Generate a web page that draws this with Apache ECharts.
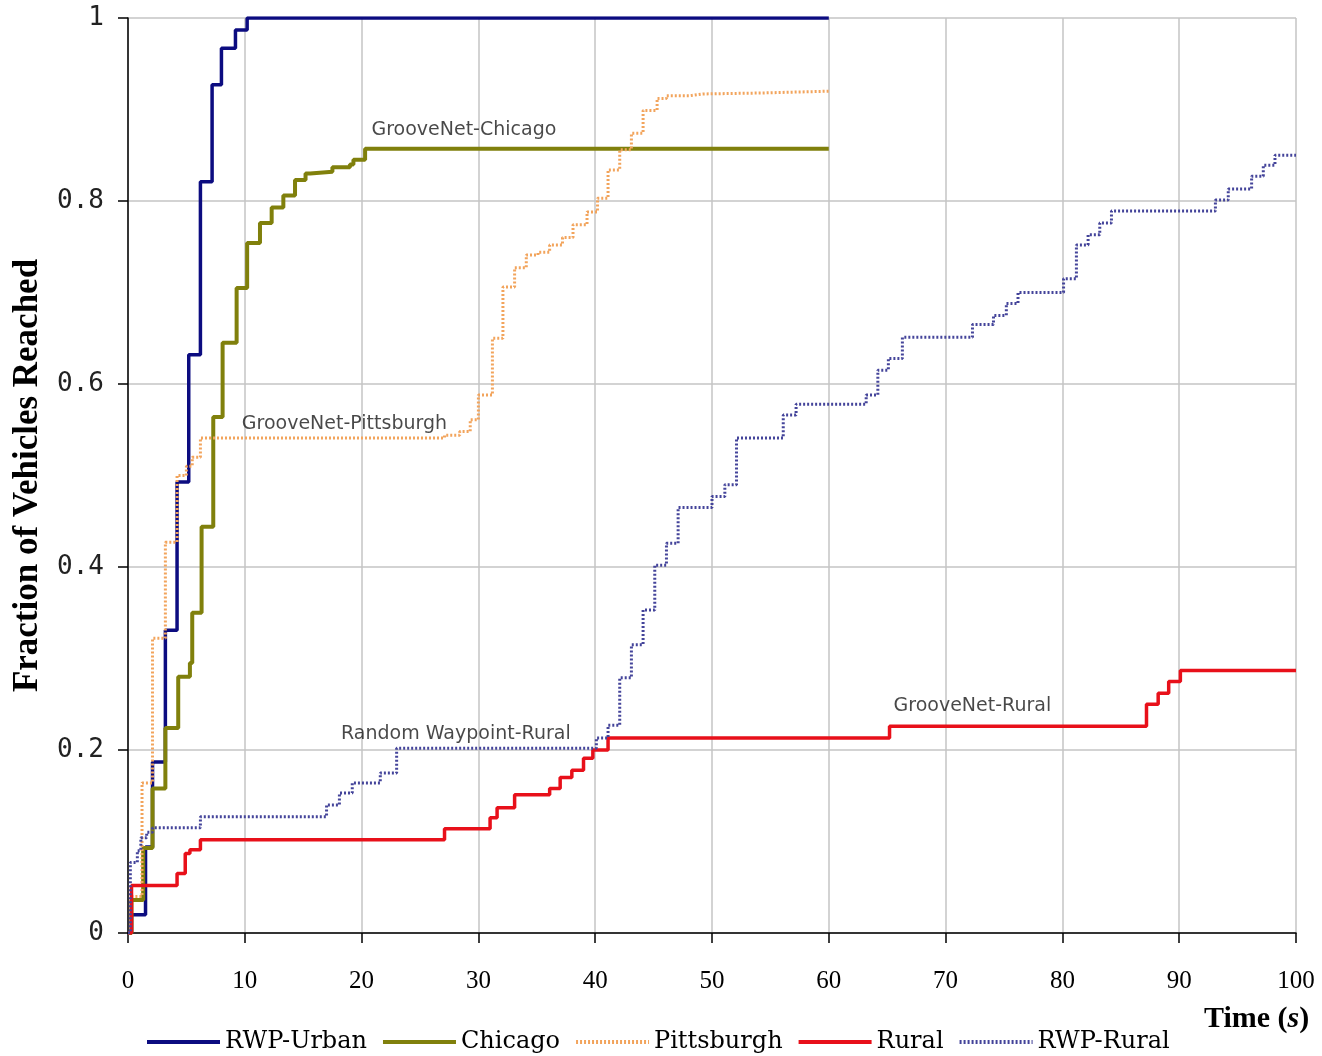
<!DOCTYPE html>
<html>
<head>
<meta charset="utf-8">
<title>Fraction of Vehicles Reached</title>
<script src="https://cdn.jsdelivr.net/npm/echarts@6/dist/echarts.min.js"></script>
<style>
	html, body { margin: 0; padding: 0; background: #fff; }
	#main { width: 1322px; height: 1056px; }
</style>
</head>
<body>
<div id="main"></div>
<script>
// time (s) where each step starts, and the fraction reached from there on
var urbanT = [0, 0.3, 1.5, 2.1, 3.2, 4.2, 5.2, 6.2, 7.2, 8.0, 9.2, 10.2, 60];
var urbanV = [0, 0.02, 0.094, 0.187, 0.331, 0.493, 0.632, 0.821, 0.927, 0.967, 0.987, 1.0, 1.0];

var chicagoT = [0, 0.3, 1.3, 2.1, 3.2, 4.3, 5.3, 5.5, 6.3, 7.3, 8.1, 9.3, 10.2, 11.3, 12.3, 13.3, 14.3, 15.2, 15.6, 17.5, 19.0, 19.3, 20.3, 60];
var chicagoV = [0, 0.036, 0.093, 0.158, 0.224, 0.28, 0.295, 0.35, 0.444, 0.564, 0.645, 0.705, 0.754, 0.776, 0.793, 0.806, 0.823, 0.83, 0.832, 0.837, 0.84, 0.845, 0.857, 0.857];

var pittT = [0, 0.3, 1.2, 2.1, 3.2, 4.2, 5.0, 5.5, 6.2, 27.1, 28.4, 29.3, 30.0, 31.2, 32.1, 33.1, 34.1, 35.1, 36.1, 37.2, 38.1, 39.3, 40.2, 41.1, 42.1, 43.1, 44.1, 45.3, 46.1, 48.1, 49.2, 54.1, 60];
var pittV = [0, 0.04, 0.164, 0.322, 0.427, 0.5, 0.51, 0.52, 0.541, 0.544, 0.548, 0.561, 0.588, 0.65, 0.706, 0.727, 0.741, 0.744, 0.752, 0.76, 0.774, 0.788, 0.803, 0.834, 0.856, 0.874, 0.899, 0.912, 0.915, 0.917, 0.918, 0.92, 0.92];

var ruralT = [0, 0.3, 4.2, 4.9, 5.3, 6.2, 27.1, 31.0, 31.6, 33.1, 36.1, 37.0, 38.0, 39.0, 39.8, 41.1, 65.2, 87.2, 88.2, 89.1, 90.1, 100];
var ruralV = [0, 0.052, 0.065, 0.087, 0.091, 0.102, 0.114, 0.126, 0.137, 0.151, 0.158, 0.17, 0.178, 0.191, 0.2, 0.213, 0.226, 0.25, 0.262, 0.275, 0.287, 0.287];

var rwpRuralT = [0, 0.2, 0.8, 1.1, 1.6, 2.1, 6.2, 17.0, 18.1, 19.2, 21.6, 23.0, 40.1, 41.1, 42.1, 43.1, 44.1, 45.1, 46.1, 47.1, 50.0, 51.1, 52.1, 56.1, 57.2, 63.2, 64.2, 65.1, 66.3, 72.3, 74.1, 75.2, 76.2, 80.1, 81.2, 82.2, 83.2, 84.2, 93.1, 94.2, 96.2, 97.2, 98.2, 100];
var rwpRuralV = [0, 0.077, 0.09, 0.104, 0.11, 0.115, 0.127, 0.14, 0.153, 0.164, 0.175, 0.202, 0.213, 0.227, 0.279, 0.315, 0.353, 0.402, 0.426, 0.465, 0.477, 0.49, 0.541, 0.566, 0.578, 0.588, 0.615, 0.628, 0.651, 0.665, 0.675, 0.688, 0.7, 0.715, 0.752, 0.763, 0.776, 0.789, 0.801, 0.813, 0.827, 0.839, 0.85, 0.85];

// text labels inside the plot (left edge x, middle y)
var noteText = ['GrooveNet-Chicago', 'GrooveNet-Pittsburgh', 'Random Waypoint-Rural', 'GrooveNet-Rural'];
var noteX = [20.8, 9.7, 18.2, 65.5];
var noteY = [0.877, 0.556, 0.217, 0.248];

var legendNames = ['RWP-Urban', 'Chicago', 'Pittsburgh', 'Rural', 'RWP-Rural'];

function pairs(t, v) {
	var out = [];
	for (var i = 0; i < t.length; i++) {
		out.push([t[i], v[i]]);
	}
	return out;
}

function stepLine(name, t, v, color, width, type) {
	return {
		name: name,
		type: 'line',
		step: 'end',
		showSymbol: false,
		symbol: 'none',
		lineStyle: {
			color: color,
			width: width,
			type: type || 'solid'
		},
		itemStyle: { color: color },
		data: pairs(t, v)
	};
}

var notes = [];
for (var i = 0; i < noteText.length; i++) {
	notes.push({ name: noteText[i], value: [noteX[i], noteY[i]] });
}

var chart = echarts.init(document.getElementById('main'));
chart.setOption({
	animation: false,
	backgroundColor: '#fff',
	grid: {
		left: 128,
		right: 26,
		top: 18,
		bottom: 123
	},
	xAxis: {
		type: 'value',
		min: 0,
		max: 100,
		interval: 10,
		axisLine: { lineStyle: { color: '#000', width: 1.5 } },
		axisTick: { length: 10, lineStyle: { color: '#000', width: 1.5 } },
		axisLabel: {
			margin: 36,
			color: '#000',
			fontFamily: 'Liberation Serif',
			fontSize: 25
		},
		splitLine: { show: true, lineStyle: { color: '#c4c4c4', width: 1.5 } }
	},
	yAxis: {
		type: 'value',
		min: 0,
		max: 1,
		interval: 0.2,
		name: 'Fraction of Vehicles Reached',
		nameLocation: 'middle',
		nameGap: 83,
		nameTextStyle: {
			color: '#000',
			fontFamily: 'Liberation Serif',
			fontWeight: 'bold',
			fontSize: 35
		},
		axisLine: { show: true, lineStyle: { color: '#000', width: 1.5 } },
		axisTick: { show: true, length: 10, lineStyle: { color: '#000', width: 1.5 } },
		axisLabel: {
			margin: 24,
			color: '#222',
			fontFamily: 'DejaVu Sans Mono',
			fontSize: 26
		},
		splitLine: { show: true, lineStyle: { color: '#c4c4c4', width: 1.5 } }
	},
	legend: {
		data: legendNames,
		left: 140,
		top: 1025,
		itemWidth: 73,
		itemHeight: 14,
		itemGap: 14,
		itemStyle: { opacity: 0 },
		lineStyle: { width: 4 },
		textStyle: {
			color: '#000',
			fontFamily: 'DejaVu Serif',
			fontSize: 24
		}
	},
	graphic: [{
		type: 'text',
		left: 1204,
		top: 1004,
		style: {
			text: 'Time ({i|s})',
			fill: '#000',
			font: 'bold 30px "Liberation Serif"',
			rich: {
				i: {
					fontStyle: 'italic',
					fontWeight: 'bold',
					fontSize: 30,
					fontFamily: 'Liberation Serif'
				}
			}
		}
	}],
	series: [
		stepLine('RWP-Urban', urbanT, urbanV, '#0c0c80', 3.5),
		stepLine('Chicago', chicagoT, chicagoV, '#80800c', 4),
		stepLine('Pittsburgh', pittT, pittV, '#f2a45c', 3, [2, 2]),
		stepLine('Rural', ruralT, ruralV, '#e8101a', 3.5),
		stepLine('RWP-Rural', rwpRuralT, rwpRuralV, '#44449a', 3, [2, 2]),
		{
			name: 'notes',
			type: 'scatter',
			symbolSize: 1,
			silent: true,
			itemStyle: { color: 'rgba(0,0,0,0)' },
			label: {
				show: true,
				position: 'right',
				distance: 0,
				formatter: '{b}',
				color: '#1a1a1a',
				fontFamily: 'DejaVu Sans',
				fontSize: 19
			},
			data: notes
		}
	]
});
</script>
</body>
</html>
